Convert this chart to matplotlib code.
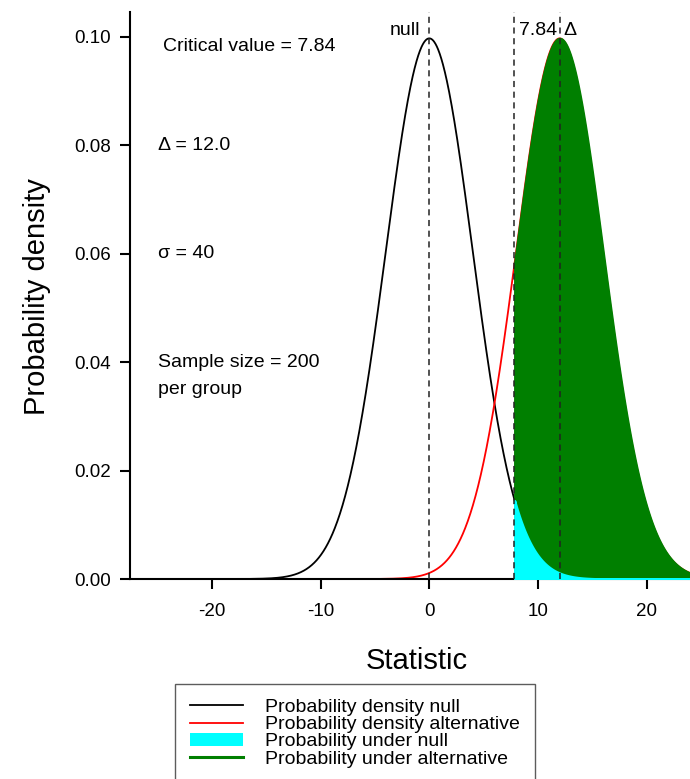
import numpy as np
import matplotlib
matplotlib.use("Agg")
import matplotlib.pyplot as plt
from matplotlib.lines import Line2D
from matplotlib.patches import Patch

plt.rcParams['font.family'] = ['Liberation Sans', 'DejaVu Sans']

# Parameters of the chart
null_mean = 0.0
delta = 12.0
sigma = 40
n_per_group = 200
critical_value = 7.84
xticks = [-20, -10, 0, 10, 20]
yticks = [0.00, 0.02, 0.04, 0.06, 0.08, 0.10]
legend_labels = ["Probability density null", "Probability density alternative",
                 "Probability under null", "Probability under alternative"]

se = sigma * np.sqrt(2.0 / n_per_group)
x = np.linspace(-30, 30, 2001)


def pdf(v, mu, s):
    return np.exp(-0.5 * ((v - mu) / s) ** 2) / (s * np.sqrt(2 * np.pi))


y_null = pdf(x, null_mean, se)
y_alt = pdf(x, delta, se)

fig = plt.figure(figsize=(6.9, 7.79), dpi=100)
ax = fig.add_axes([130 / 690, 200 / 779, 560 / 690, 567 / 779])

ax.plot(x, y_null, color='black', lw=1.3, zorder=2)
ax.plot(x, y_alt, color='red', lw=1.3, zorder=2)
mask = x >= critical_value
ax.fill_between(x[mask], 0, y_alt[mask], facecolor='#007f00', edgecolor='#007f00',
                lw=1.6, zorder=3)
ax.fill_between(x[mask], 0, y_null[mask], facecolor='#00ffff', edgecolor='#00ffff',
                lw=1.6, zorder=4)

for v in (null_mean, critical_value, delta):
    ax.axvline(v, color='#222222', lw=1.1, ls=(0, (4, 3)), zorder=5)

ax.set_xlim(-27.55, 24.0)
ax.set_ylim(0, 0.1046)

fs = 14
ax.text(null_mean - 0.8, 0.1012, "null", ha='right', va='center', fontsize=fs)
ax.text(critical_value + 0.4, 0.1012, "7.84", ha='left', va='center', fontsize=fs)
ax.text(delta + 0.3, 0.1012, "\u0394", ha='left', va='center', fontsize=fs)

tx = -25.0
ax.text(tx + 0.45, 0.0983, "Critical value = %.2f" % critical_value, ha='left', va='center', fontsize=fs)
ax.text(tx, 0.080, "\u0394 = %.1f" % delta, ha='left', va='center', fontsize=fs)
ax.text(tx, 0.060, "\u03c3 = %d" % sigma, ha='left', va='center', fontsize=fs)
ax.text(tx, 0.040, "Sample size = %d" % n_per_group, ha='left', va='center', fontsize=fs)
ax.text(tx, 0.035, "per group", ha='left', va='center', fontsize=fs)

ax.set_xticks(xticks)
ax.set_xticklabels([str(t) for t in xticks])
ax.set_yticks(yticks)
ax.set_yticklabels(["%.2f" % t for t in yticks])
ax.tick_params(direction='out', length=7.5, width=1.5, labelsize=13.5)
ax.tick_params(axis='x', pad=10)
ax.tick_params(axis='y', pad=6)
for s in ('top', 'right'):
    ax.spines[s].set_visible(False)
for s in ('left', 'bottom'):
    ax.spines[s].set_linewidth(1.5)

ax.set_xlabel("Statistic", fontsize=21)
ax.xaxis.set_label_coords(0.5125, -0.12)
ax.set_ylabel("Probability density", fontsize=21)
ax.yaxis.set_label_coords(-0.141, 0.499)

handles = [Line2D([], [], color='black', lw=1.3),
           Line2D([], [], color='red', lw=1.3),
           Patch(facecolor='#00ffff', edgecolor='none'),
           Line2D([], [], color='#007f00', lw=2.2)]
leg = fig.legend(handles, legend_labels, loc='upper left',
                 bbox_to_anchor=(175 / 690, 1 - 684 / 779), fontsize=14,
                 frameon=True, fancybox=False, edgecolor='#333333',
                 handlelength=2.75, handleheight=0.6, labelspacing=0.02,
                 borderpad=0.75, handletextpad=1.15, borderaxespad=0)
leg.get_frame().set_linewidth(1.0)

fig.savefig("out.png", dpi=100)
